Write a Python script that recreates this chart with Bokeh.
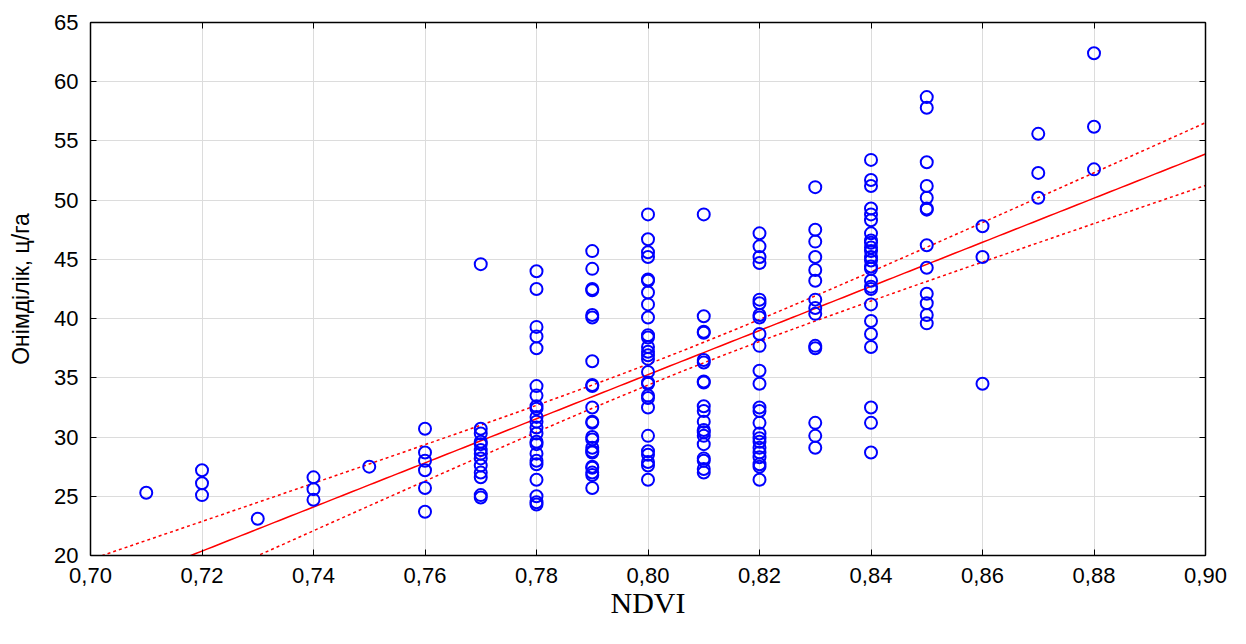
import numpy as np
from bokeh.plotting import figure
from bokeh.models import (LinearAxis, FixedTicker, CustomJSTickFormatter, Range1d,
                          ColumnDataSource, Label)
from bokeh.embed import file_html
from bokeh.resources import INLINE

# ---- data ----
ndvi_levels = [0.71, 0.72, 0.73, 0.74, 0.75, 0.76, 0.77, 0.78, 0.79, 0.80,
               0.81, 0.82, 0.83, 0.84, 0.85, 0.86, 0.87, 0.88]
yield_071 = [25.3]
yield_072 = [27.2, 26.1, 25.1]
yield_073 = [23.1]
yield_074 = [26.6, 25.6, 24.7]
yield_075 = [27.5]
yield_076 = [30.7, 28.7, 28.0, 27.2, 25.7, 23.7]
yield_077 = [44.6, 30.7, 30.3, 29.6, 29.4, 28.9, 28.6, 28.2, 27.6, 27.0, 26.6, 25.1, 24.9]
yield_078 = [44.0, 42.5, 39.3, 38.5, 37.5, 34.3, 33.5, 32.6, 32.4, 31.7, 31.3, 30.8,
             30.3, 29.6, 29.4, 28.6, 28.0, 27.7, 26.4, 25.0, 24.5, 24.3]
yield_079 = [45.7, 44.2, 42.5, 42.4, 40.3, 40.1, 36.4, 34.4, 34.3, 32.5, 31.3, 31.2,
             30.0, 29.8, 29.1, 28.8, 28.7, 27.5, 27.4, 27.0, 26.8, 25.7]
yield_080 = [48.8, 46.7, 45.6, 45.2, 43.3, 43.2, 42.2, 41.2, 40.1, 38.6, 38.4, 37.6,
             37.2, 36.9, 36.6, 35.5, 34.6, 34.5, 33.5, 33.3, 32.5, 30.1, 28.8, 28.5,
             27.9, 27.6, 26.4]
yield_081 = [48.8, 40.2, 38.9, 38.8, 36.5, 36.3, 34.7, 34.6, 32.6, 32.2, 31.3, 30.6,
             30.4, 30.1, 29.4, 28.2, 28.0, 27.3, 27.0]
yield_082 = [47.2, 46.1, 45.2, 44.7, 41.6, 41.3, 40.3, 40.1, 38.7, 37.7, 35.6, 34.5,
             32.5, 32.2, 31.2, 30.3, 29.9, 29.6, 29.1, 28.7, 28.3, 27.7, 27.5, 26.4]
yield_083 = [51.1, 47.5, 46.5, 45.2, 44.1, 43.2, 41.6, 40.9, 40.4, 37.7, 37.5, 31.2,
             30.1, 29.1]
yield_084 = [53.4, 51.7, 51.2, 49.3, 48.8, 48.3, 47.2, 46.6, 46.4, 46.0, 45.7, 45.2,
             44.9, 44.4, 44.2, 43.2, 42.7, 42.5, 41.2, 39.8, 38.7, 37.6, 32.5, 31.2, 28.7]
yield_085 = [58.7, 57.8, 53.2, 51.2, 50.2, 49.3, 49.2, 46.2, 44.3, 42.1, 41.3, 40.3, 39.6]
yield_086 = [47.8, 45.2, 34.5]
yield_087 = [55.6, 52.3, 50.2]
yield_088 = [62.4, 56.2, 52.6]

yields_by_level = [yield_071, yield_072, yield_073, yield_074, yield_075, yield_076,
                   yield_077, yield_078, yield_079, yield_080, yield_081, yield_082,
                   yield_083, yield_084, yield_085, yield_086, yield_087, yield_088]

x_ticks = [0.70, 0.72, 0.74, 0.76, 0.78, 0.80, 0.82, 0.84, 0.86, 0.88, 0.90]
y_ticks = [20, 25, 30, 35, 40, 45, 50, 55, 60, 65]

x_label = "NDVI"
y_label = "Онімділік, ц/га"

# ---- build points ----
xs, ys = [], []
for lvl, vals in zip(ndvi_levels, yields_by_level):
    xs.extend([lvl] * len(vals))
    ys.extend(vals)
xs = np.array(xs)
ys = np.array(ys)

# ---- linear regression + 95% confidence band ----
n = len(xs)
xm, ym = xs.mean(), ys.mean()
sxx = ((xs - xm) ** 2).sum()
slope = ((xs - xm) * (ys - ym)).sum() / sxx
intercept = ym - slope * xm
resid = ys - (intercept + slope * xs)
s = np.sqrt((resid ** 2).sum() / (n - 2))
r = np.corrcoef(xs, ys)[0, 1]
t_crit = 1.972

xl = np.linspace(x_ticks[0], x_ticks[-1], 201)
yl = intercept + slope * xl
half = t_crit * s * np.sqrt(1.0 / n + (xl - xm) ** 2 / sxx)

FONT = "Liberation Sans"

p = figure(width=1230, height=628, output_backend="svg", toolbar_location=None,
           x_range=Range1d(x_ticks[0], x_ticks[-1]), y_range=Range1d(y_ticks[0], y_ticks[-1]),
           min_border_left=90, min_border_right=25, min_border_top=22, min_border_bottom=73,
           x_axis_location="below", y_axis_location="left")
p.outline_line_color = "black"
p.background_fill_color = "white"
p.border_fill_color = "white"

p.xgrid.ticker = FixedTicker(ticks=x_ticks)
p.ygrid.ticker = FixedTicker(ticks=y_ticks)
p.grid.grid_line_color = "#dcdcdc"
p.grid.grid_line_width = 1

fmt = CustomJSTickFormatter(code="return tick.toFixed(2).replace('.', ',');")

def style_axis(ax, ticks):
    ax.ticker = FixedTicker(ticks=ticks)
    ax.axis_line_color = "black"
    ax.axis_line_width = 1.5
    ax.major_tick_line_color = "black"
    ax.major_tick_line_width = 1
    ax.major_tick_in = 6
    ax.major_tick_out = 0
    ax.minor_tick_line_color = None
    ax.major_label_text_font = FONT
    ax.major_label_text_font_size = "22px"
    ax.major_label_text_color = "black"

xa = p.xaxis[0]
style_axis(xa, x_ticks)
xa.formatter = fmt
xa.major_label_standoff = 12
xa.axis_label = x_label
xa.axis_label_text_font = "Liberation Serif"
xa.axis_label_text_font_style = "normal"
xa.axis_label_text_font_size = "30px"
xa.axis_label_text_color = "black"
xa.axis_label_standoff = 0

ya = p.yaxis[0]
style_axis(ya, y_ticks)
ya.major_label_standoff = 12
ya.axis_label = y_label
ya.axis_label_text_font = FONT
ya.axis_label_text_font_style = "normal"
ya.axis_label_text_font_size = "23px"
ya.axis_label_text_color = "black"
ya.axis_label_standoff = 17

top = LinearAxis()
style_axis(top, x_ticks)
top.major_label_text_color = None
top.major_label_text_font_size = "1px"
top.major_label_standoff = 0
p.add_layout(top, "above")

right = LinearAxis()
style_axis(right, y_ticks)
right.major_label_text_color = None
right.major_label_text_font_size = "1px"
right.major_label_standoff = 0
p.add_layout(right, "right")

# regression line and confidence band
src = ColumnDataSource(dict(x=xl, y=yl, lo=yl - half, hi=yl + half))
p.line("x", "y", source=src, line_color="#ff0000", line_width=1.5)
p.line("x", "hi", source=src, line_color="#ff0000", line_width=1.5, line_dash="3 3")
p.line("x", "lo", source=src, line_color="#ff0000", line_width=1.5, line_dash="3 3")

# points
p.scatter(xs, ys, marker="circle", size=12, fill_color=None,
          line_color="#0000ff", line_width=2)

# title line (mostly cut off at the top in the reference)
r_txt = ("%.5f" % r).lstrip("0")
title = Label(x=(x_ticks[0] + x_ticks[-1]) / 2, y=y_ticks[-1] + 1.8,
              text="Корреляция: r = " + r_txt.replace(".", ","),
              text_align="center", text_baseline="alphabetic",
              text_font=FONT, text_font_size="19px", text_color="black")
p.add_layout(title)

open("out.html", "w").write(file_html(p, INLINE))
